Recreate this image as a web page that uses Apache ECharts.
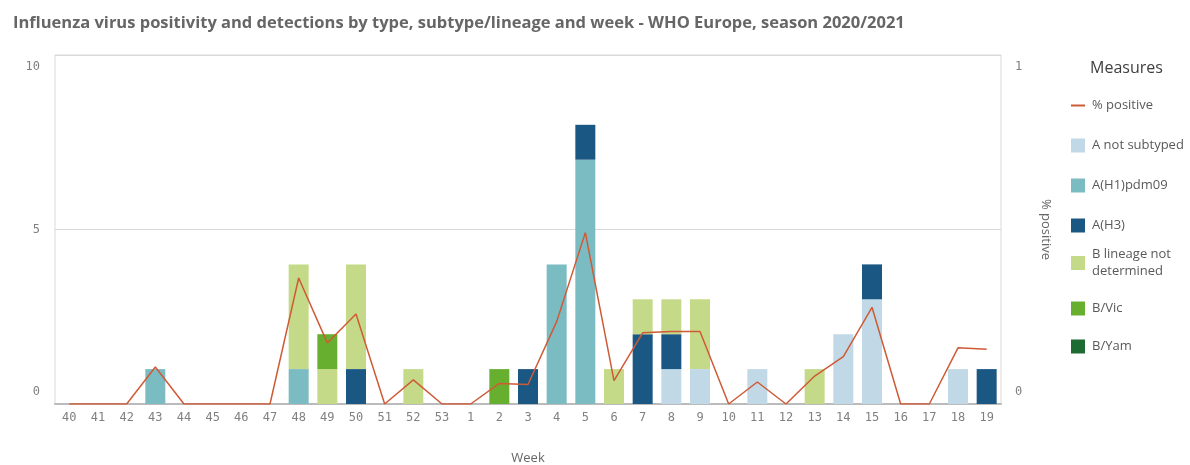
<!DOCTYPE html>
<html>
<head>
<meta charset="utf-8">
<script src="https://cdn.jsdelivr.net/npm/echarts@6/dist/echarts.min.js"></script>
<style>
  html, body { margin: 0; padding: 0; background: #fff; }
  #chart { width: 1190px; height: 465px; }
</style>
</head>
<body>
<div id="chart"></div>
<script>
// weeks of season 2020/2021
const weeks = ['40','41','42','43','44','45','46','47','48','49','50','51','52','53',
  '1','2','3','4','5','6','7','8','9','10','11','12','13','14','15','16','17','18','19']

// detections per week (stacked)
const aNotSubtyped = [0,0,0,0,0,0,0,0,0,0,0,0,0,0, 0,0,0,0,0,0,0,1,1,0,1,0,0,2,3,0,0,1,0]
const aH1pdm09     = [0,0,0,1,0,0,0,0,1,0,0,0,0,0, 0,0,0,4,7,0,0,0,0,0,0,0,0,0,0,0,0,0,0]
const aH3          = [0,0,0,0,0,0,0,0,0,0,1,0,0,0, 0,0,1,0,1,0,2,1,0,0,0,0,0,0,1,0,0,0,1]
const bNotDet      = [0,0,0,0,0,0,0,0,3,1,3,0,1,0, 0,0,0,0,0,1,1,1,2,0,0,0,1,0,0,0,0,0,0]
const bVic         = [0,0,0,0,0,0,0,0,0,1,0,0,0,0, 0,1,0,0,0,0,0,0,0,0,0,0,0,0,0,0,0,0,0]
const bYam         = [0,0,0,0,0,0,0,0,0,0,0,0,0,0, 0,0,0,0,0,0,0,0,0,0,0,0,0,0,0,0,0,0,0]

// % positive (right axis)
const pctPositive = [0,0,0,0.106,0,0,0,0,0.361,0.175,0.258,0,0.069,0,
  0,0.059,0.056,0.236,0.491,0.067,0.204,0.208,0.208,0,0.063,0,0.08,0.136,0.277,0,0,0.161,0.157]

const leftTicks = [0, 5, 10]
const rightTicks = [0, 1]

const chart = echarts.init(document.getElementById('chart'), null, { renderer: 'canvas' })

const labelFont = "'DejaVu Sans Mono', monospace"
const textFont = "'Open Sans', sans-serif"

function barSeries (name, data, color) {
  return {
    name: name,
    type: 'bar',
    stack: 'det',
    barWidth: 20,
    data: data,
    itemStyle: { color: color },
    emphasis: { disabled: true }
  }
}

// legend entries, one legend box each so the spacing follows the original
const legendItems = [
  { name: '% positive', icon: 'path://M0,0h14v2h-14z', top: 97 },
  { name: 'A not subtyped', icon: 'rect', top: 137 },
  { name: 'A(H1)pdm09', icon: 'rect', top: 177 },
  { name: 'A(H3)', icon: 'rect', top: 217 },
  { name: 'B lineage not determined', icon: 'rect', top: 246 },
  { name: 'B/Vic', icon: 'rect', top: 300 },
  { name: 'B/Yam', icon: 'rect', top: 338 }
]

const legends = legendItems.map(item => {
  return {
    orient: 'vertical',
    left: 1071,
    top: item.top,
    padding: 0,
    itemWidth: 14,
    itemHeight: 14,
    selectedMode: false,
    textStyle: { fontFamily: textFont, fontSize: 13, color: '#595959', lineHeight: 17, padding: [0, 0, 0, 2] },
    data: [{ name: item.name, icon: item.icon }],
    formatter: function (name) {
      return name === 'B lineage not determined' ? 'B lineage not\ndetermined' : name
    }
  }
})

const option = {
  animation: false,
  backgroundColor: '#fff',
  title: {
    text: 'Influenza virus positivity and detections by type, subtype/lineage and week - WHO Europe, season 2020/2021',
    left: 8,
    top: 10,
    textStyle: {
      fontFamily: "'Open Sans', sans-serif",
      fontWeight: 'bold',
      fontSize: 16.5,
      color: '#666'
    }
  },
  grid: {
    left: 55,
    right: 189,
    top: 55,
    bottom: 61,
    outerBoundsMode: 'none',
    containLabel: false,
    show: true,
    borderColor: '#d9d9d9',
    borderWidth: 1
  },
  legend: legends,
  graphic: [
    {
      type: 'text',
      left: 1090,
      top: 60,
      style: { text: 'Measures', font: "16px 'Open Sans', sans-serif", fill: '#404040' }
    }
  ],
  xAxis: {
    type: 'category',
    data: weeks,
    name: 'Week',
    nameLocation: 'middle',
    nameGap: 48,
    nameTextStyle: { fontFamily: textFont, fontSize: 13, color: '#666' },
    axisLine: { lineStyle: { color: '#bbb', width: 2 } },
    axisTick: { show: false },
    axisLabel: { fontFamily: labelFont, fontSize: 12, color: '#808080', margin: 8, interval: 0 }
  },
  yAxis: [
    {
      type: 'value',
      min: leftTicks[0],
      max: leftTicks[leftTicks.length - 1],
      interval: 5,
      axisLine: { show: false },
      axisTick: { show: false },
      splitLine: { lineStyle: { color: '#d9d9d9', width: 1 } },
      axisLabel: {
        fontFamily: labelFont, fontSize: 12, color: '#808080', margin: 15,
        lineHeight: 24,
        verticalAlignMinLabel: 'bottom',
        verticalAlignMaxLabel: 'top'
      }
    },
    {
      type: 'value',
      min: rightTicks[0],
      max: rightTicks[rightTicks.length - 1],
      interval: 1,
      name: '% positive',
      nameLocation: 'middle',
      nameRotate: -90,
      nameGap: 38,
      nameTextStyle: { fontFamily: textFont, fontSize: 13, color: '#666' },
      axisLine: { show: false },
      axisTick: { show: false },
      splitLine: { show: false },
      axisLabel: {
        fontFamily: labelFont, fontSize: 12, color: '#808080', margin: 14,
        lineHeight: 24,
        verticalAlignMinLabel: 'bottom',
        verticalAlignMaxLabel: 'top'
      }
    }
  ],
  series: [
    barSeries('A not subtyped', aNotSubtyped, '#c1d9e6'),
    barSeries('A(H1)pdm09', aH1pdm09, '#7bbbc2'),
    barSeries('A(H3)', aH3, '#1b5783'),
    barSeries('B lineage not determined', bNotDet, '#c5da88'),
    barSeries('B/Vic', bVic, '#67b02f'),
    barSeries('B/Yam', bYam, '#1d6b33'),
    {
      name: '% positive',
      type: 'line',
      yAxisIndex: 1,
      data: pctPositive,
      symbol: 'none',
      z: 5,
      lineStyle: { color: '#cf5a36', width: 1.5 },
      itemStyle: { color: '#cf5a36' },
      emphasis: { disabled: true }
    }
  ]
}

chart.setOption(option)
</script>
</body>
</html>
